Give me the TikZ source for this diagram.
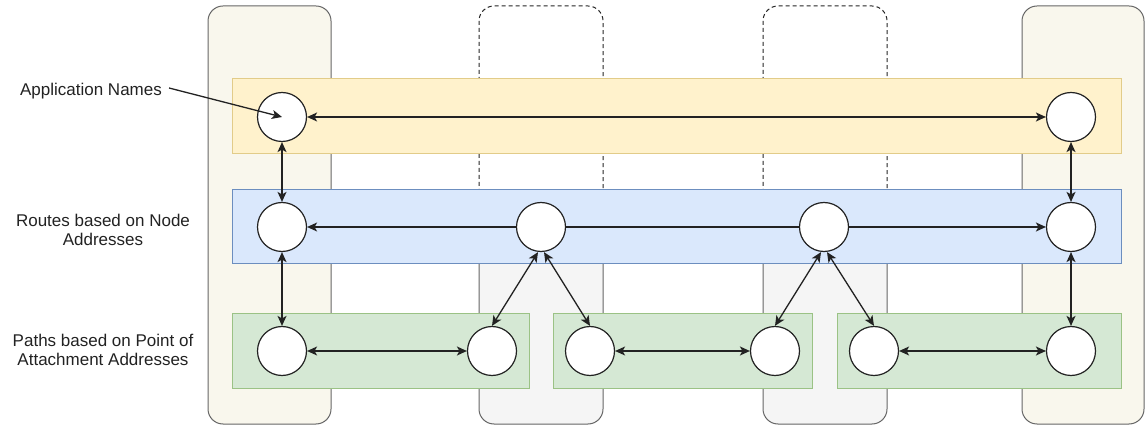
\documentclass[tikz,border=0pt]{standalone}
\usepackage{fontspec}
\setmainfont{Liberation Sans}
\usetikzlibrary{arrows.meta}
\definecolor{colbeige}{HTML}{F9F7ED}
\definecolor{colgray}{HTML}{F5F5F5}
\definecolor{yelfill}{HTML}{FFF2CC}
\definecolor{yeldraw}{HTML}{D6B656}
\definecolor{bluefill}{HTML}{DAE8FC}
\definecolor{bluedraw}{HTML}{6C8EBF}
\definecolor{grnfill}{HTML}{D5E8D4}
\definecolor{grndraw}{HTML}{82B366}
\definecolor{ink}{HTML}{222222}
\tikzset{
  colbox/.style={draw=black!60, fill=colbeige, rounded corners=15pt, line width=1pt},
  graycol/.style={draw=black!60, fill=colgray, rounded corners=15pt, line width=1pt},
  dashcol/.style={draw=black!85, fill=white, rounded corners=15pt, line width=1pt, dash pattern=on 4pt off 3pt},
  yband/.style={draw=yeldraw!70, fill=yelfill, line width=1pt},
  bband/.style={draw=bluedraw, fill=bluefill, line width=1pt},
  gband/.style={draw=grndraw!80, fill=grnfill, line width=1pt},
  nd/.style={circle, draw=ink, fill=white, minimum size=49pt, inner sep=0pt, line width=1.2pt},
  lbl/.style={font=\fontsize{17}{19.5}\selectfont, text=ink, align=center, inner sep=0pt},
  tip/.tip={Stealth[length=10pt,width=9pt,inset=2.5pt]},
  arr/.style={-tip, draw=ink, line width=1.3pt},
  darr/.style={tip-tip, draw=ink, line width=1.3pt},
  ln/.style={draw=ink, line width=1.3pt},
}
\begin{document}
\begin{tikzpicture}[x=1pt,y=-1pt]
\useasboundingbox (0,0) rectangle (1148,427);
% columns
\draw[colbox] (208,6) rectangle (331,424);
\draw[colbox] (1022,6) rectangle (1144,424);
\draw[dashcol] (479,6) rectangle (603,245);
\draw[graycol] (479,205) rectangle (603,424);
\draw[dashcol] (763,6) rectangle (887,245);
\draw[graycol] (763,205) rectangle (887,424);
% bands
\draw[yband] (232,79) rectangle (1121,154);
\draw[bband] (232,190) rectangle (1121,264);
\draw[gband] (232,314) rectangle (529,388);
\draw[gband] (553,314) rectangle (812,388);
\draw[gband] (837,314) rectangle (1121,388);
% nodes
\node[nd] (a1) at (282,117) {};
\node[nd] (a2) at (1071,117) {};
\node[nd] (b1) at (282,227) {};
\node[nd] (b2) at (541,227) {};
\node[nd] (b3) at (824,227) {};
\node[nd] (b4) at (1071,227) {};
\node[nd] (g1) at (282,351) {};
\node[nd] (g2) at (492,351) {};
\node[nd] (g3) at (590,351) {};
\node[nd] (g4) at (775,351) {};
\node[nd] (g5) at (874,351) {};
\node[nd] (g6) at (1071,351) {};
% labels
\node[lbl] (lapp) at (91,91) {Application Names};
\node[lbl] (lrt) at (103,230) {Routes based on Node\\Addresses};
\node[lbl] (lpt) at (103,350) {Paths based on Point of\\Attachment Addresses};
% connectors
\draw[arr] ([xshift=7pt,yshift=3pt]lapp.east) -- (a1.center);
\draw[darr] (a1) -- (a2);
\draw[darr] (a1) -- (b1);
\draw[darr] (b1) -- (g1);
\draw[darr] (a2) -- (b4);
\draw[darr] (b4) -- (g6);
\draw[arr] (b2) -- (b1);
\draw[ln] (b2) -- (b3);
\draw[arr] (b3) -- (b4);
\draw[darr] ([xshift=-3pt]b2.south) -- (g2.north);
\draw[darr] ([xshift=3pt]b2.south) -- (g3.north);
\draw[darr] ([xshift=-3pt]b3.south) -- (g4.north);
\draw[darr] ([xshift=3pt]b3.south) -- (g5.north);
\draw[darr] (g1) -- (g2);
\draw[darr] (g3) -- (g4);
\draw[darr] (g5) -- (g6);
\end{tikzpicture}
\end{document}
